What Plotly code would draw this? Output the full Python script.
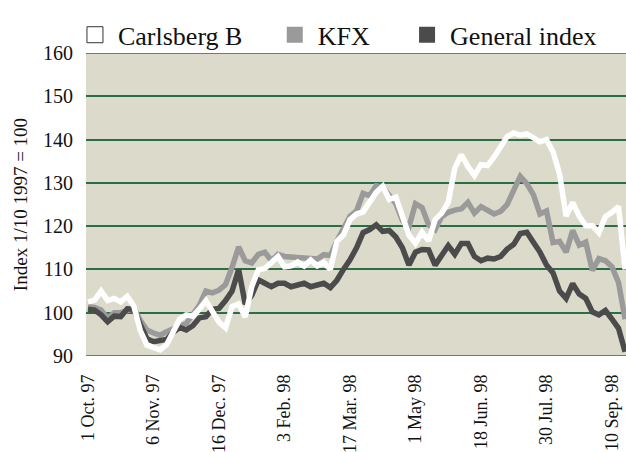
import plotly.graph_objects as go

# Tick labels (every 10th observation)
tick_labels = ["1 Oct. 97", "6 Nov. 97", "16 Dec. 97", "3 Feb. 98", "17 Mar. 98",
               "1 May 98", "18 Jun. 98", "30 Jul. 98", "10 Sep. 98"]
tick_index = [0, 10, 20, 30, 40, 50, 60, 70, 80]

carlsberg = [102.5, 102.9, 105.0, 102.8, 103.3, 102.5, 103.8, 101.5, 95.8, 92.5,
             92.0, 91.4, 92.6, 95.5, 98.5, 99.5, 99.2, 100.8, 102.8, 100.3,
             97.8, 96.5, 101.4, 102.0, 99.0, 106.0, 109.9, 110.2, 111.5, 113.0,
             110.6, 110.8, 111.7, 110.8, 112.2, 110.8, 111.6, 110.0, 116.5, 118.0,
             121.5, 122.8, 123.3, 125.7, 127.8, 129.2, 126.2, 126.7, 122.6, 117.9,
             116.0, 118.6, 116.6, 121.5, 123.0, 125.5, 133.4, 136.5, 133.8, 131.7,
             134.2, 134.0, 136.0, 138.5, 140.7, 141.5, 141.0, 141.3, 140.3, 139.5,
             140.0, 137.2, 132.0, 122.3, 125.5, 122.3, 120.1, 120.1, 118.5, 122.2,
             123.2, 124.5, 110.0]

kfx = [101.4, 101.2, 100.6, 98.8, 100.0, 100.0, 100.5, 101.0, 98.2, 96.0,
       95.3, 94.8, 95.6, 96.4, 96.9, 97.5, 99.7, 101.7, 105.0, 104.6,
       105.2, 106.5, 110.5, 115.2, 112.0, 111.5, 113.5, 114.0, 112.0, 113.5,
       113.0, 112.9, 112.5, 112.4, 112.6, 112.4, 113.4, 113.2, 116.6, 119.3,
       122.3, 123.5, 127.6, 127.0, 129.3, 129.0, 127.2, 125.2, 121.3, 119.8,
       125.2, 124.3, 120.3, 119.2, 122.2, 123.2, 123.7, 124.0, 125.5, 123.0,
       124.5, 123.5, 122.8, 123.4, 125.0, 128.3, 131.5, 129.8, 127.3, 122.8,
       123.5, 116.2, 116.5, 114.0, 119.0, 115.6, 116.3, 109.8, 112.5, 112.0,
       110.6, 107.0, 98.5]

general = [100.8, 100.6, 99.5, 97.9, 99.2, 99.1, 100.9, 100.8, 97.2, 94.0,
           93.3, 93.5, 93.8, 95.5, 96.6, 96.0, 97.0, 98.8, 99.1, 100.8,
           101.0, 102.8, 105.0, 110.0, 102.0, 104.0, 107.6, 106.8, 106.0, 106.8,
           106.8, 106.0, 106.4, 106.8, 106.0, 106.4, 106.8, 105.8, 107.5, 110.0,
           112.2, 115.0, 118.5, 119.2, 120.3, 118.8, 119.0, 117.5, 115.0, 111.0,
           114.0, 114.6, 114.5, 111.0, 113.5, 115.5, 113.5, 116.0, 116.0, 113.0,
           112.0, 112.6, 112.4, 113.0, 114.7, 115.8, 118.3, 118.6, 116.3, 114.0,
           111.0, 109.2, 105.0, 103.3, 106.7, 104.3, 103.3, 100.2, 99.5, 100.5,
           98.5, 96.4, 91.0]

x = list(range(len(carlsberg)))

FONT = "Liberation Serif"
C_WHITE = "#ffffff"
C_KFX = "#9a9a9a"
C_GEN = "#4b4b4b"
GRID = "#2a6e45"

fig = go.Figure()
fig.add_trace(go.Scatter(x=x, y=kfx, mode="lines", line=dict(color=C_KFX, width=5.5),
                         showlegend=False, name="KFX"))
fig.add_trace(go.Scatter(x=x, y=general, mode="lines", line=dict(color=C_GEN, width=5.5),
                         showlegend=False, name="General index"))
fig.add_trace(go.Scatter(x=x, y=carlsberg, mode="lines", line=dict(color=C_WHITE, width=5.5),
                         showlegend=False, name="Carlsberg B"))

# legend entries (square swatches)
fig.add_trace(go.Scatter(x=[None], y=[None], mode="markers", name="Carlsberg B",
                         marker=dict(symbol="square", size=16, color="#ffffff",
                                     line=dict(color="#333333", width=1)),
                         legend="legend"))
fig.add_trace(go.Scatter(x=[None], y=[None], mode="markers", name="KFX",
                         marker=dict(symbol="square", size=16, color=C_KFX,
                                     line=dict(width=0)),
                         legend="legend2"))
fig.add_trace(go.Scatter(x=[None], y=[None], mode="markers", name="General index",
                         marker=dict(symbol="square", size=16, color=C_GEN,
                                     line=dict(width=0)),
                         legend="legend3"))

leg_common = dict(yanchor="middle", xanchor="left", y=1.06, bgcolor="rgba(0,0,0,0)",
                  font=dict(family=FONT, size=26, color="#111111"), itemwidth=36,
                  orientation="h")

fig.update_layout(
    width=626, height=452,
    margin=dict(l=86, r=0, t=53, b=96, autoexpand=False),
    paper_bgcolor="#ffffff",
    plot_bgcolor="#dcdbcb",
    font=dict(family=FONT, size=20, color="#111111"),
    legend=dict(x=-0.026, **leg_common),
    legend2=dict(x=0.344, **leg_common),
    legend3=dict(x=0.589, **leg_common),
    xaxis=dict(range=[-0.305, 82.14], tickmode="array", tickvals=tick_index,
               ticktext=tick_labels, tickangle=-90, showgrid=False, zeroline=False,
               ticks="", ticklabelstandoff=14, tickfont=dict(family=FONT, size=18),
               showline=False, automargin=False),
    yaxis=dict(range=[90, 160], tickmode="array", tickvals=[90, 100, 110, 120, 130, 140, 150, 160],
               showgrid=True, gridcolor=GRID, gridwidth=1.6, zeroline=False, ticks="",
               ticklabelstandoff=12, tickfont=dict(family=FONT, size=20), automargin=False,
               title=dict(text="Index 1/10 1997 = 100", font=dict(family=FONT, size=19),
                          standoff=10)),
    shapes=[
        dict(type="line", xref="paper", yref="y", x0=0, x1=1, y0=90, y1=90,
             line=dict(color=GRID, width=1.6), layer="above"),
        dict(type="line", xref="paper", yref="y", x0=0, x1=1, y0=160, y1=160,
             line=dict(color=GRID, width=1.6), layer="below"),
    ],
)

# remove the browser's default 8px page margin so the figure fills the window
fig.write_html("out.html",
               config={"displayModeBar": False},
               post_script="document.body.style.margin='0';document.body.style.overflow='hidden';")
